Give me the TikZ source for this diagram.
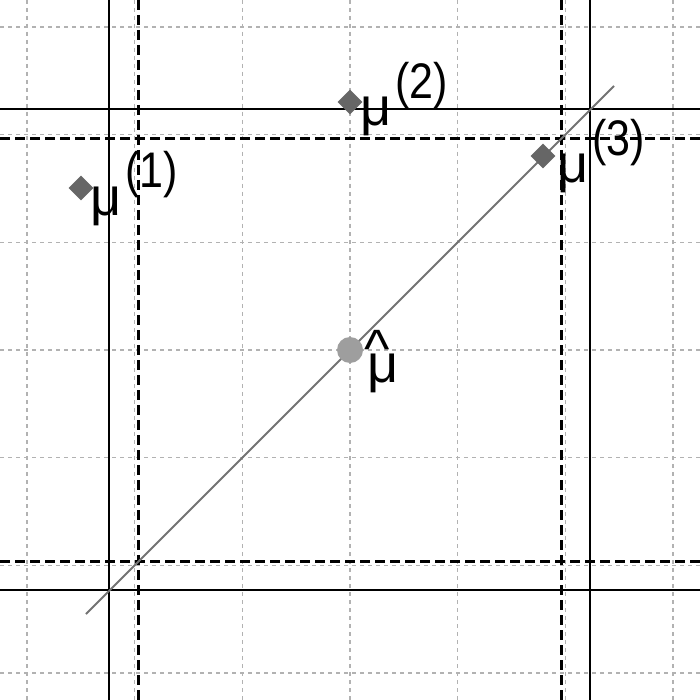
\documentclass[tikz,border=0pt]{standalone}
\usepackage{fontspec}
\setmainfont{Liberation Sans}
\usetikzlibrary{shapes.geometric}
\tikzset{
  gridline/.style={draw=black!30, line width=0.75pt, dash pattern=on 2pt off 2pt},
  solidline/.style={draw=black, line width=1pt},
  dashline/.style={draw=black, line width=1.1pt, dash pattern=on 5pt off 2.5pt},
  diag/.style={draw=black!55, line width=0.9pt},
  mupoint/.style={diamond, fill=black!60, inner sep=0pt, minimum size=12.5pt},
  hatpoint/.style={circle, fill=black!38, inner sep=0pt, minimum size=13pt},
  mulabel/.style={anchor=base west, inner sep=0pt, font=\fontsize{27}{32}\selectfont}
}
\newcommand{\supx}[1]{\kern2pt\raisebox{13.5pt}{\scalebox{0.86}[1]{\fontsize{25}{30}\selectfont(#1)}}}
\newcommand{\muhat}{μ\llap{\raisebox{7.5pt}{\fontsize{27}{30}\selectfont\textasciicircum}\kern4.5pt}}
\begin{document}
\begin{tikzpicture}[x=0.5pt,y=-0.5pt]
\useasboundingbox[fill=white] (0,0) rectangle (700,700);
% grid
\foreach \g in {27,134.67,242.33,350,457.67,565.33,673}{
  \draw[gridline] (\g,0) -- (\g,700);
  \draw[gridline] (0,\g) -- (700,\g);
}
% solid lines
\draw[solidline] (109,0) -- (109,700);
\draw[solidline] (590,0) -- (590,700);
\draw[solidline] (0,109) -- (700,109);
\draw[solidline] (0,590) -- (700,590);
% dashed lines
\draw[dashline] (138.5,0) -- (138.5,700);
\draw[dashline] (561.5,0) -- (561.5,700);
\draw[dashline] (0,138.5) -- (700,138.5);
\draw[dashline] (0,561.5) -- (700,561.5);
% diagonal
\coordinate (d1) at (86,614);
\coordinate (d2) at (614,86);
\draw[diag] (d1) -- (d2);
% points
\node[mupoint] (m1) at (81,188) {};
\node[mupoint] (m2) at (350,102) {};
\node[mupoint] (m3) at (543,156) {};
\node[hatpoint] (mh) at (350,350) {};
% labels
\node[mulabel] (l1) at (90,215) {μ\supx{1}};
\node[mulabel] (l2) at (360,126) {μ\supx{2}};
\node[mulabel] (l3) at (557,183) {μ\supx{3}};
\node[mulabel] (lh) at (367,382) {\muhat};
\end{tikzpicture}
\end{document}
